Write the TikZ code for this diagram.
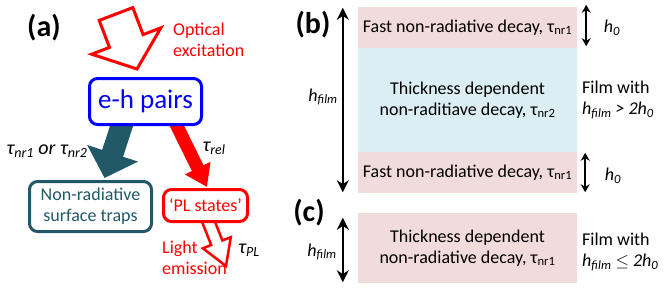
\documentclass[tikz,border=0pt]{standalone}
\usepackage{fontspec}
\setmainfont{Carlito}
\usetikzlibrary{arrows.meta, calc, backgrounds}

\definecolor{trapteal}{RGB}{33,89,104}
\definecolor{layerpink}{RGB}{242,220,219}
\definecolor{layerblue}{RGB}{219,238,243}

\begin{document}
\begin{tikzpicture}[x=1pt, y=-1pt,
    lbl/.style={font=\fontsize{18}{21}\selectfont, align=left, inner sep=0pt},
    rate/.style={font=\fontsize{20}{22}\selectfont\itshape, inner sep=0pt},
    state/.style={draw=#1, text=#1, line width=3pt, rounded corners=8pt, fill=white, inner sep=0pt, align=center, font=\fontsize{18}{21}\selectfont},
    layer/.style={minimum width=219pt, inner sep=0pt, align=center, font=\fontsize{18}{21}\selectfont},
    panel/.style={font=\bfseries\fontsize{30}{30}\selectfont, inner sep=0pt},
    dim/.style={line width=2pt, {Stealth[length=12pt,width=12pt]}-{Stealth[length=12pt,width=12pt]}},
    dimsmall/.style={line width=1.5pt, {Stealth[length=8pt,width=9pt]}-{Stealth[length=8pt,width=9pt]}}]

    \useasboundingbox (0,0) rectangle (664,290);

    % panel labels
    \node[panel] (pa) at (44,28) {(a)};
    \node[panel] (pb) at (313,25) {(b)};
    \node[panel] (pc) at (309,213) {(c)};

    % (a) excitation -> e-h pairs
    \draw[red, line width=3pt, fill=white] (99.2,20.4) -- (109.5,47.4) -- (91.7,54.2) -- (137,69)
        -- (160.9,27.8) -- (143.1,34.6) -- (132.8,7.6) -- cycle;
    \node[lbl, red, anchor=west] (optical) at (173,40) {Optical\\excitation};

    \node[state=blue, minimum width=112pt, minimum height=46pt, font=\fontsize{27}{30}\selectfont] (eh) at (145.5,101.5) {e-h pairs};
    \node[state=trapteal, minimum width=122pt, minimum height=50pt] (traps) at (90.5,206.5) {Non-radiative\\surface traps};
    \node[state=red, minimum width=84pt, minimum height=32pt] (pl) at (205.5,205.5) {‘PL states’};

    % decay channels
    \begin{scope}[on background layer]
        \draw[trapteal, line width=22pt, -{Triangle[length=26pt,width=52pt]}] ($(eh.south)+(-22,-6)$) -- ($(traps.north)+(14,-2)$);
        \draw[red, line width=13pt, -{Triangle[length=21pt,width=27pt]}] ($(eh.south)+(28.5,-6)$) -- ($(pl.north)+(1.5,-1)$);
        \draw[red, line width=2.5pt, fill=white] (201.4,220.2) -- (211.2,245) -- (202.9,248.3) -- (226,266)
            -- (230.8,237.2) -- (222.4,240.5) -- (212.6,215.8) -- cycle;
    \end{scope}

    \node[rate] (taunr) at (47,151) {τ\textsubscript{nr1} or τ\textsubscript{nr2}};
    \node[rate] (taurel) at (214,148) {τ\textsubscript{rel}};
    \node[rate] (taupl) at (249,250) {τ\textsubscript{PL}};
    \node[lbl, red, anchor=west] (light) at (162,258) {Light\\emission};

    % (b) thick film layers
    \node[layer, fill=layerpink, minimum height=41pt] (fasttop) at (467.5,27.5) {Fast non-radiative decay, τ\textsubscript{nr1}};
    \node[layer, fill=layerblue, minimum height=104pt] (thick) at (467.5,100) {Thickness dependent\\non-raditiave decay, τ\textsubscript{nr2}};
    \node[layer, fill=layerpink, minimum height=41pt] (fastbot) at (467.5,172.5) {Fast non-radiative decay, τ\textsubscript{nr1}};

    \draw[dim] ($(fasttop.north west)+(-15,1)$) -- ($(fastbot.south west)+(-15,-1)$);
    \draw[dimsmall] ($(fasttop.north east)+(9,-2)$) -- ($(fasttop.south east)+(9,-2)$);
    \draw[dimsmall] ($(fastbot.north east)+(8,1)$) -- ($(fastbot.south east)+(8,-1)$);

    \node[lbl] (hfilmb) at (323,97) {\textit{h\textsubscript{film}}};
    \node[lbl] (hzeroa) at (612,28) {\textit{h\textsubscript{0}}};
    \node[lbl] (hzerob) at (613,176) {\textit{h\textsubscript{0}}};
    \node[lbl, anchor=west] (filmb) at (582,100) {Film with\\\textit{h\textsubscript{film} > 2h\textsubscript{0}}};

    % (c) thin film
    \node[layer, fill=layerpink, minimum height=70pt] (thin) at (467.5,248) {Thickness dependent\\non-radiative decay, τ\textsubscript{nr1}};
    \draw[dim] ($(thin.north west)+(-15,5)$) -- ($(thin.south west)+(-15,-1)$);
    \node[lbl] (hfilmc) at (322,252) {\textit{h\textsubscript{film}}};
    \node[lbl, anchor=west] (filmc) at (582,252) {Film with\\\textit{h\textsubscript{film}} $\leq$ \textit{2h\textsubscript{0}}};

\end{tikzpicture}
\end{document}
